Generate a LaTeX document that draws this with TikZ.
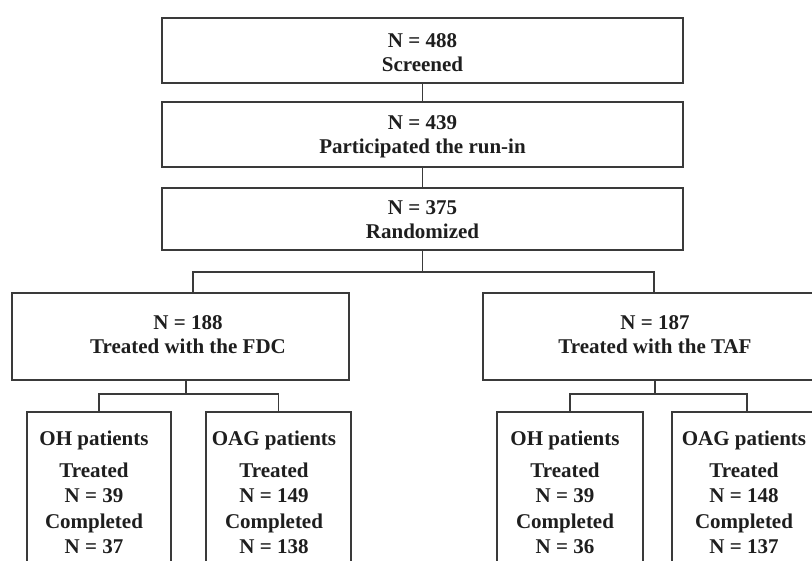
\documentclass[tikz,border=0pt]{standalone}
\usepackage{fontspec}
\setmainfont{Liberation Serif}
\begin{document}
\begin{tikzpicture}[x=1pt,y=-1pt,
  box/.style={draw=linec, line width=1.7pt, rectangle, inner sep=0pt, align=center,
    font=\bfseries\fontsize{21}{24.5}\selectfont, text=txtc},
  txt/.style={inner sep=0pt, align=center, font=\bfseries\fontsize{21}{25.5}\selectfont, text=txtc},
  conn/.style={draw=linec, line width=1.7pt}]
\definecolor{linec}{HTML}{3A3A3A}
\definecolor{txtc}{HTML}{1E1E1E}
\useasboundingbox (0,0) rectangle (812,561);
\clip (0,0) rectangle (812,561);
% top chain
\node[box, minimum width=521pt, minimum height=65pt] (b1) at (422.5,50.5) {};
\node[txt, font=\bfseries\fontsize{21}{24.5}\selectfont] (b1txt) at (422.5,52.5) {N = 488\\Screened};
\node[box, minimum width=521pt, minimum height=65pt] (b2) at (422.5,134.5) {};
\node[txt, font=\bfseries\fontsize{21}{24.5}\selectfont] (b2txt) at (422.5,137) {N = 439\\Participated the run-in};
\node[box, minimum width=521pt, minimum height=62pt] (b3) at (422.5,219) {};
\node[txt, font=\bfseries\fontsize{21}{24}\selectfont] (b3txt) at (422.5,219.5) {N = 375\\Randomized};
\draw[conn] (b1.south) -- (b2.north);
\draw[conn] (b2.south) -- (b3.north);
% arms
\node[box, minimum width=337pt, minimum height=87pt] (fdc) at (180.5,336.5) {};
\node[txt, font=\bfseries\fontsize{21}{24}\selectfont] (fdctxt) at (188,335) {N = 188\\Treated with the FDC};
\node[box, minimum width=344pt, minimum height=87pt] (taf) at (655,336.5) {};
\node[txt, font=\bfseries\fontsize{21}{24}\selectfont] (taftxt) at (655,335) {N = 187\\Treated with the TAF};
\coordinate (jL) at (193,272);
\coordinate (jR) at (654,272);
\draw[conn] (b3.south) -- (b3.south |- jL);
\draw[conn] (fdc.north -| jL) -- (jL) -- (jR) -- (taf.north -| jR);
% sub boxes
\node[box, anchor=north, minimum width=144pt, minimum height=190pt] (ohL) at (99,411) {};
\node[box, anchor=north, minimum width=145pt, minimum height=190pt] (oagL) at (278.5,411) {};
\node[box, anchor=north, minimum width=146pt, minimum height=190pt] (ohR) at (570,411) {};
\node[box, anchor=north, minimum width=150pt, minimum height=190pt] (oagR) at (747,411) {};
\node[txt, anchor=north] (ohLtxt) at (94,431) {OH patients\\[6pt]Treated\\N = 39\\Completed\\N = 37};
\node[txt, anchor=north] (oagLtxt) at (274,431) {OAG patients\\[6pt]Treated\\N = 149\\Completed\\N = 138};
\node[txt, anchor=north] (ohRtxt) at (565,431) {OH patients\\[6pt]Treated\\N = 39\\Completed\\N = 36};
\node[txt, anchor=north] (oagRtxt) at (744,431) {OAG patients\\[6pt]Treated\\N = 148\\Completed\\N = 137};
\coordinate (kL) at (186,394);
\coordinate (kR) at (655,394);
\draw[conn] (fdc.south -| kL) -- (kL);
\draw[conn] (ohL.north) -- (ohL.north |- kL) -- (oagL.north |- kL) -- (oagL.north);
\draw[conn] (taf.south -| kR) -- (kR);
\draw[conn] (ohR.north) -- (ohR.north |- kR) -- (oagR.north |- kR) -- (oagR.north);
\end{tikzpicture}
\end{document}
